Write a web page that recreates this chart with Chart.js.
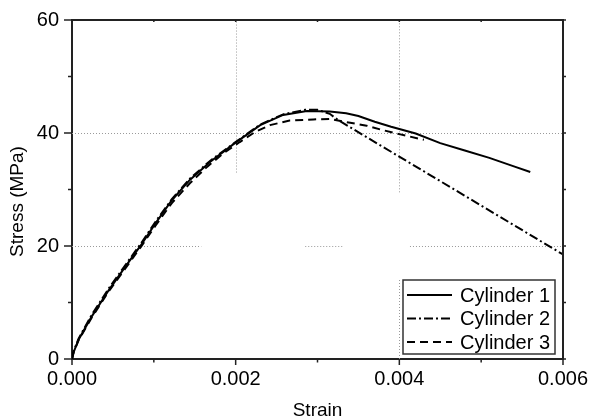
<!DOCTYPE html>
<html>
<head>
<meta charset="utf-8">
<script src="https://cdn.jsdelivr.net/npm/chart.js@4.4.1/dist/chart.umd.min.js"></script>
<style>
  html, body { margin: 0; padding: 0; background: #fff; }
  #wrap { width: 590px; height: 420px; }
</style>
</head>
<body>
<div id="wrap"><canvas id="chart" width="590" height="420"></canvas></div>
<script>
// values
let seriesNames = ['Cylinder 1', 'Cylinder 2', 'Cylinder 3'];

let strain1 = [0, 0.00002, 0.00008, 0.00024, 0.00045, 0.00065, 0.00084, 0.00102, 0.00122, 0.00144, 0.00169, 0.00199, 0.0023, 0.00258, 0.00287, 0.00315, 0.00335, 0.0035, 0.0037, 0.0039, 0.0042, 0.0045, 0.0048, 0.0051, 0.0054, 0.0056];
let stress1 = [0, 1.2, 3.4, 7.5, 12.2, 16.3, 20.1, 24.0, 28.1, 31.7, 34.9, 38.2, 41.4, 43.2, 43.9, 43.8, 43.5, 43.0, 42.0, 41.1, 39.9, 38.2, 36.9, 35.6, 34.1, 33.1];

let strain2 = [0, 0.00002, 0.00008, 0.00024, 0.00045, 0.00065, 0.00084, 0.00102, 0.00122, 0.00144, 0.00169, 0.00199, 0.0023, 0.00258, 0.00285, 0.003, 0.00315, 0.00325, 0.006];
let stress2 = [0, 1.4, 3.6, 7.8, 12.5, 16.6, 20.4, 24.3, 28.3, 31.9, 35.1, 38.3, 41.5, 43.3, 44.1, 44.1, 43.4, 42.3, 18.5];

let strain3 = [0, 0.00002, 0.00008, 0.00024, 0.00045, 0.00065, 0.00084, 0.00102, 0.00122, 0.00144, 0.00165, 0.00185, 0.00205, 0.00224, 0.00242, 0.00266, 0.00295, 0.00315, 0.0034, 0.0036, 0.0038, 0.004, 0.0043];
let stress3 = [0, 1.2, 3.3, 7.3, 12.0, 16.0, 19.8, 23.6, 27.6, 31.1, 34.0, 36.4, 38.4, 40.2, 41.4, 42.2, 42.4, 42.5, 41.8, 41.3, 40.5, 39.8, 38.8];

let xTicks = [0, 0.002, 0.004, 0.006];
let yTicks = [0, 20, 40, 60];

// dash patterns for the three curves
let dashes = [[], [9, 3, 2, 3], [8, 5]];

let fontFam = '"Liberation Sans", Arial, sans-serif';

let toPoints = (xs, ys) => xs.map((x, i) => ({x: x, y: ys[i]}));

// the dotted grid in the picture is broken in places
let vGrid = [
  {at: 0.002, from: 33, to: 60},
  {at: 0.004, from: 29.5, to: 60},
  {at: 0.004, from: 0, to: 14}
];
let hGrid = [
  {at: 40, from: 0, to: 0.006},
  {at: 20, from: 0, to: 0.00158},
  {at: 20, from: 0.00285, to: 0.00331},
  {at: 20, from: 0.00413, to: 0.006}
];

let mids = (arr) => arr.slice(1).map((v, i) => (v + arr[i]) / 2);

const extras = {
  id: 'extras',
  beforeDatasetsDraw(chart) {
    const ctx = chart.ctx, xs = chart.scales.x, ys = chart.scales.y;
    ctx.save();
    ctx.strokeStyle = '#9a9a9a';
    ctx.lineWidth = 1;
    ctx.setLineDash([1, 2]);
    vGrid.forEach(g => {
      const px = Math.round(xs.getPixelForValue(g.at)) + 0.5;
      ctx.beginPath();
      ctx.moveTo(px, ys.getPixelForValue(g.from));
      ctx.lineTo(px, ys.getPixelForValue(g.to));
      ctx.stroke();
    });
    hGrid.forEach(g => {
      const py = Math.round(ys.getPixelForValue(g.at)) + 0.5;
      ctx.beginPath();
      ctx.moveTo(xs.getPixelForValue(g.from), py);
      ctx.lineTo(xs.getPixelForValue(g.to), py);
      ctx.stroke();
    });
    ctx.restore();
  },
  afterDraw(chart) {
    const ctx = chart.ctx, xs = chart.scales.x, ys = chart.scales.y;
    const a = chart.chartArea;
    ctx.save();
    ctx.setLineDash([]);
    ctx.strokeStyle = '#222';

    // top and right frame
    ctx.lineWidth = 2;
    ctx.beginPath();
    ctx.moveTo(a.left, a.top);
    ctx.lineTo(a.right, a.top);
    ctx.lineTo(a.right, a.bottom);
    ctx.stroke();

    // tick marks, major and minor
    ctx.lineWidth = 1.5;
    const tick = (x1, y1, x2, y2) => {
      ctx.beginPath(); ctx.moveTo(x1, y1); ctx.lineTo(x2, y2); ctx.stroke();
    };
    xTicks.forEach(v => {
      const px = xs.getPixelForValue(v);
      tick(px, a.bottom, px, a.bottom + 6);
      tick(px, a.top, px, a.top + 2);
    });
    mids(xTicks).forEach(v => {
      const px = xs.getPixelForValue(v);
      tick(px, a.bottom, px, a.bottom + 3.5);
      tick(px, a.top, px, a.top + 2);
    });
    yTicks.forEach(v => {
      const py = ys.getPixelForValue(v);
      tick(a.left, py, a.left - 8, py);
      tick(a.right, py, a.right + 3, py);
    });
    mids(yTicks).forEach(v => {
      const py = ys.getPixelForValue(v);
      tick(a.left, py, a.left - 4, py);
      tick(a.right, py, a.right + 3, py);
    });

    // y title
    ctx.fillStyle = '#000';
    ctx.font = '19px ' + fontFam;
    ctx.textAlign = 'center';
    ctx.textBaseline = 'middle';
    ctx.translate(17.5, (a.top + a.bottom) / 2 + 12);
    ctx.rotate(-Math.PI / 2);
    ctx.fillText('Stress (MPa)', 0, 0);
    ctx.setTransform(1, 0, 0, 1, 0, 0);

    // legend box
    const bw = 152, bh = 74;
    const bx = a.right - 8 - bw, by = a.bottom - 5 - bh;
    ctx.fillStyle = '#fff';
    ctx.fillRect(bx, by, bw, bh);
    ctx.strokeStyle = '#333';
    ctx.lineWidth = 1.5;
    ctx.strokeRect(bx, by, bw, bh);
    ctx.font = '20px ' + fontFam;
    ctx.textAlign = 'left';
    chart.data.datasets.forEach((ds, i) => {
      const cy = by + 15 + i * 23.5;
      ctx.strokeStyle = '#000';
      ctx.lineWidth = 2;
      ctx.setLineDash(ds.borderDash);
      tick(bx + 4, cy, bx + 49, cy);
      ctx.setLineDash([]);
      ctx.fillStyle = '#000';
      ctx.fillText(ds.label, bx + 57, cy + 1);
    });
    ctx.restore();
  }
};

let datasets = [
  toPoints(strain1, stress1),
  toPoints(strain2, stress2),
  toPoints(strain3, stress3)
].map((pts, i) => ({
  label: seriesNames[i],
  data: pts,
  showLine: true,
  borderColor: '#000',
  borderWidth: 2,
  borderDash: dashes[i],
  pointRadius: 0,
  fill: false,
  tension: 0
}));

new Chart(document.getElementById('chart'), {
  type: 'scatter',
  data: { datasets: datasets },
  options: {
    responsive: false,
    animation: false,
    devicePixelRatio: 1,
    layout: { padding: { top: 20, right: 27, bottom: 0, left: 0 } },
    plugins: {
      legend: { display: false },
      tooltip: { enabled: false }
    },
    scales: {
      x: {
        type: 'linear',
        min: 0,
        max: 0.006,
        afterBuildTicks: s => { s.ticks = xTicks.map(v => ({value: v})); },
        afterFit: s => { s.height = 61; s.paddingLeft = 0; s.paddingRight = 0; },
        grid: { display: false, drawTicks: false },
        border: { display: true, width: 2, color: '#222' },
        ticks: {
          color: '#000',
          font: { family: fontFam, size: 20 },
          padding: 8,
          maxRotation: 0,
          autoSkip: false,
          callback: v => v.toFixed(3)
        },
        title: {
          display: true,
          text: 'Strain',
          color: '#000',
          font: { family: fontFam, size: 19, lineHeight: 1 },
          padding: 0
        }
      },
      y: {
        min: 0,
        max: 60,
        afterBuildTicks: s => { s.ticks = yTicks.map(v => ({value: v})); },
        afterFit: s => { s.width = 72; s.paddingTop = 0; s.paddingBottom = 0; },
        grid: { display: false, drawTicks: false },
        border: { display: true, width: 2, color: '#222' },
        ticks: {
          color: '#000',
          font: { family: fontFam, size: 20 },
          padding: 13,
          autoSkip: false,
          callback: v => String(v)
        }
      }
    }
  },
  plugins: [extras]
});
</script>
</body>
</html>
